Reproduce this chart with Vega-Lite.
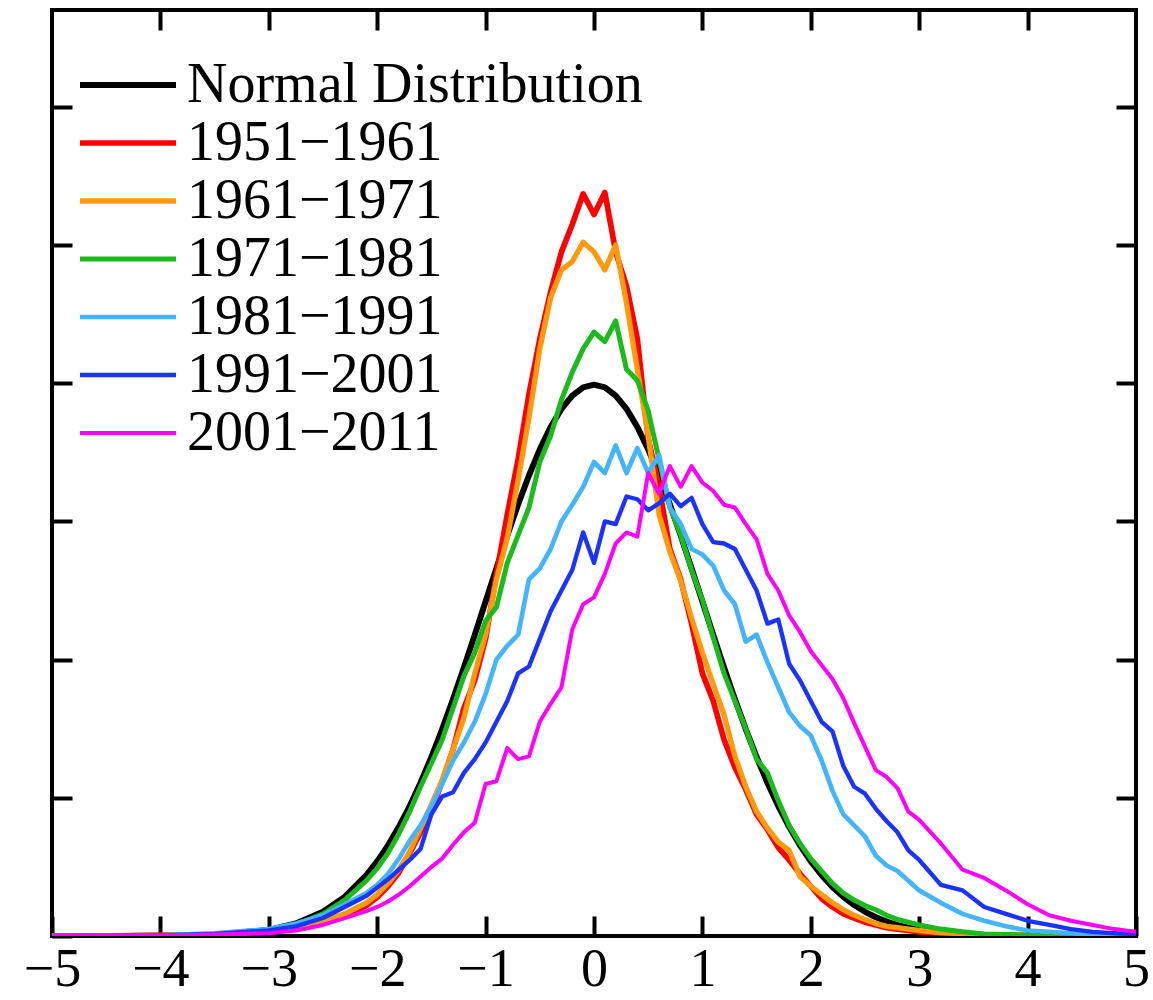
{
  "$schema": "https://vega.github.io/schema/vega-lite/v6.json",
  "width": 1084,
  "height": 926,
  "autosize": {"type": "none"},
  "padding": {"left": 52, "top": 10, "right": 17, "bottom": 64},
  "background": "white",
  "config": {
    "view": {"stroke": "black", "strokeWidth": 4},
    "font": "Liberation Serif",
    "axis": {"grid": false, "domain": false, "tickColor": "black", "tickWidth": 4, "tickSize": -20, "labelColor": "black", "labelFont": "Liberation Serif", "labelFontSize": 54, "title": null}
  },
  "data": {"values": [
    {"x": -5, "n": 0, "a": 0, "b": 0, "c": 0, "d": 0, "e": 0, "f": 0},
    {"x": -4.5, "n": 0, "a": 0, "b": 0, "c": 0, "d": 0.0002, "e": 0.0002, "f": 0.0001},
    {"x": -4, "n": 0.0001, "a": 0.0005, "b": 0.0005, "c": 0.0003, "d": 0.0005, "e": 0.0005, "f": 0.0003},
    {"x": -3.5, "n": 0.0009, "a": 0.001, "b": 0.0015, "c": 0.001, "d": 0.002, "e": 0.0015, "f": 0.001},
    {"x": -3, "n": 0.0044, "a": 0.003, "b": 0.004, "c": 0.004, "d": 0.005, "e": 0.004, "f": 0.002},
    {"x": -2.75, "n": 0.0091, "a": 0.006, "b": 0.007, "c": 0.008, "d": 0.009, "e": 0.007, "f": 0.004},
    {"x": -2.5, "n": 0.0175, "a": 0.010, "b": 0.011, "c": 0.016, "d": 0.015, "e": 0.013, "f": 0.008},
    {"x": -2.3, "n": 0.0283, "a": 0.015, "b": 0.016, "c": 0.026, "d": 0.023, "e": 0.021, "f": 0.013},
    {"x": -2.1, "n": 0.0440, "a": 0.022, "b": 0.024, "c": 0.040, "d": 0.031, "e": 0.029, "f": 0.018},
    {"x": -2.0, "n": 0.0540, "a": 0.028, "b": 0.030, "c": 0.049, "d": 0.037, "e": 0.035, "f": 0.021},
    {"x": -1.9, "n": 0.0656, "a": 0.036, "b": 0.038, "c": 0.060, "d": 0.045, "e": 0.041, "f": 0.025},
    {"x": -1.8, "n": 0.0790, "a": 0.046, "b": 0.048, "c": 0.074, "d": 0.056, "e": 0.048, "f": 0.030},
    {"x": -1.7, "n": 0.0940, "a": 0.060, "b": 0.061, "c": 0.090, "d": 0.069, "e": 0.055, "f": 0.036},
    {"x": -1.6, "n": 0.1109, "a": 0.075, "b": 0.078, "c": 0.108, "d": 0.080, "e": 0.063, "f": 0.043},
    {"x": -1.5, "n": 0.1295, "a": 0.090, "b": 0.095, "c": 0.125, "d": 0.094, "e": 0.088, "f": 0.050},
    {"x": -1.4, "n": 0.1497, "a": 0.112, "b": 0.113, "c": 0.142, "d": 0.110, "e": 0.101, "f": 0.056},
    {"x": -1.3, "n": 0.1714, "a": 0.135, "b": 0.135, "c": 0.165, "d": 0.127, "e": 0.104, "f": 0.066},
    {"x": -1.2, "n": 0.1942, "a": 0.165, "b": 0.158, "c": 0.188, "d": 0.140, "e": 0.118, "f": 0.075},
    {"x": -1.1, "n": 0.2179, "a": 0.185, "b": 0.190, "c": 0.205, "d": 0.155, "e": 0.128, "f": 0.082},
    {"x": -1.0, "n": 0.2420, "a": 0.215, "b": 0.218, "c": 0.228, "d": 0.175, "e": 0.140, "f": 0.110},
    {"x": -0.9, "n": 0.2661, "a": 0.262, "b": 0.258, "c": 0.238, "d": 0.200, "e": 0.155, "f": 0.112},
    {"x": -0.8, "n": 0.2897, "a": 0.305, "b": 0.288, "c": 0.270, "d": 0.210, "e": 0.170, "f": 0.136},
    {"x": -0.7, "n": 0.3123, "a": 0.345, "b": 0.330, "c": 0.290, "d": 0.218, "e": 0.190, "f": 0.128},
    {"x": -0.6, "n": 0.3332, "a": 0.392, "b": 0.375, "c": 0.310, "d": 0.258, "e": 0.195, "f": 0.130},
    {"x": -0.5, "n": 0.3521, "a": 0.432, "b": 0.425, "c": 0.343, "d": 0.266, "e": 0.215, "f": 0.155},
    {"x": -0.4, "n": 0.3683, "a": 0.466, "b": 0.462, "c": 0.362, "d": 0.280, "e": 0.235, "f": 0.168},
    {"x": -0.3, "n": 0.3814, "a": 0.495, "b": 0.482, "c": 0.388, "d": 0.300, "e": 0.250, "f": 0.180},
    {"x": -0.2, "n": 0.3910, "a": 0.515, "b": 0.488, "c": 0.408, "d": 0.312, "e": 0.265, "f": 0.222},
    {"x": -0.1, "n": 0.3970, "a": 0.537, "b": 0.502, "c": 0.425, "d": 0.325, "e": 0.292, "f": 0.240},
    {"x": 0, "n": 0.3989, "a": 0.522, "b": 0.495, "c": 0.437, "d": 0.343, "e": 0.270, "f": 0.245},
    {"x": 0.1, "n": 0.3970, "a": 0.538, "b": 0.482, "c": 0.430, "d": 0.335, "e": 0.300, "f": 0.262},
    {"x": 0.2, "n": 0.3910, "a": 0.495, "b": 0.500, "c": 0.445, "d": 0.355, "e": 0.298, "f": 0.284},
    {"x": 0.3, "n": 0.3814, "a": 0.470, "b": 0.458, "c": 0.410, "d": 0.335, "e": 0.318, "f": 0.292},
    {"x": 0.4, "n": 0.3683, "a": 0.432, "b": 0.410, "c": 0.402, "d": 0.353, "e": 0.316, "f": 0.289},
    {"x": 0.5, "n": 0.3521, "a": 0.360, "b": 0.362, "c": 0.380, "d": 0.335, "e": 0.308, "f": 0.335},
    {"x": 0.6, "n": 0.3332, "a": 0.325, "b": 0.305, "c": 0.345, "d": 0.348, "e": 0.313, "f": 0.320},
    {"x": 0.7, "n": 0.3123, "a": 0.280, "b": 0.278, "c": 0.310, "d": 0.310, "e": 0.320, "f": 0.340},
    {"x": 0.8, "n": 0.2897, "a": 0.258, "b": 0.257, "c": 0.290, "d": 0.298, "e": 0.311, "f": 0.325},
    {"x": 0.9, "n": 0.2661, "a": 0.226, "b": 0.230, "c": 0.265, "d": 0.280, "e": 0.317, "f": 0.340},
    {"x": 1.0, "n": 0.2420, "a": 0.190, "b": 0.205, "c": 0.243, "d": 0.276, "e": 0.298, "f": 0.328},
    {"x": 1.1, "n": 0.2179, "a": 0.170, "b": 0.182, "c": 0.216, "d": 0.268, "e": 0.285, "f": 0.322},
    {"x": 1.2, "n": 0.1942, "a": 0.142, "b": 0.160, "c": 0.190, "d": 0.250, "e": 0.284, "f": 0.312},
    {"x": 1.3, "n": 0.1714, "a": 0.122, "b": 0.130, "c": 0.170, "d": 0.240, "e": 0.280, "f": 0.310},
    {"x": 1.4, "n": 0.1497, "a": 0.106, "b": 0.108, "c": 0.150, "d": 0.213, "e": 0.265, "f": 0.298},
    {"x": 1.5, "n": 0.1295, "a": 0.088, "b": 0.090, "c": 0.128, "d": 0.218, "e": 0.250, "f": 0.287},
    {"x": 1.6, "n": 0.1109, "a": 0.077, "b": 0.078, "c": 0.118, "d": 0.198, "e": 0.226, "f": 0.262},
    {"x": 1.7, "n": 0.0940, "a": 0.064, "b": 0.068, "c": 0.098, "d": 0.180, "e": 0.229, "f": 0.250},
    {"x": 1.8, "n": 0.0790, "a": 0.055, "b": 0.062, "c": 0.080, "d": 0.162, "e": 0.197, "f": 0.232},
    {"x": 1.9, "n": 0.0656, "a": 0.045, "b": 0.043, "c": 0.067, "d": 0.152, "e": 0.185, "f": 0.220},
    {"x": 2.0, "n": 0.0540, "a": 0.036, "b": 0.036, "c": 0.056, "d": 0.145, "e": 0.170, "f": 0.206},
    {"x": 2.1, "n": 0.0440, "a": 0.027, "b": 0.030, "c": 0.047, "d": 0.127, "e": 0.155, "f": 0.196},
    {"x": 2.2, "n": 0.0355, "a": 0.021, "b": 0.024, "c": 0.038, "d": 0.105, "e": 0.148, "f": 0.186},
    {"x": 2.3, "n": 0.0283, "a": 0.016, "b": 0.019, "c": 0.031, "d": 0.088, "e": 0.123, "f": 0.172},
    {"x": 2.4, "n": 0.0224, "a": 0.013, "b": 0.015, "c": 0.026, "d": 0.080, "e": 0.108, "f": 0.154},
    {"x": 2.5, "n": 0.0175, "a": 0.010, "b": 0.012, "c": 0.022, "d": 0.072, "e": 0.103, "f": 0.137},
    {"x": 2.6, "n": 0.0136, "a": 0.008, "b": 0.009, "c": 0.019, "d": 0.058, "e": 0.092, "f": 0.120},
    {"x": 2.7, "n": 0.0104, "a": 0.006, "b": 0.007, "c": 0.015, "d": 0.051, "e": 0.083, "f": 0.115},
    {"x": 2.8, "n": 0.0079, "a": 0.005, "b": 0.006, "c": 0.012, "d": 0.047, "e": 0.075, "f": 0.107},
    {"x": 2.9, "n": 0.0060, "a": 0.004, "b": 0.005, "c": 0.010, "d": 0.040, "e": 0.062, "f": 0.090},
    {"x": 3.0, "n": 0.0044, "a": 0.003, "b": 0.004, "c": 0.008, "d": 0.033, "e": 0.055, "f": 0.084},
    {"x": 3.2, "n": 0.0024, "a": 0.002, "b": 0.0025, "c": 0.005, "d": 0.024, "e": 0.037, "f": 0.067},
    {"x": 3.4, "n": 0.0012, "a": 0.001, "b": 0.0015, "c": 0.003, "d": 0.016, "e": 0.033, "f": 0.048},
    {"x": 3.6, "n": 0.0006, "a": 0.0007, "b": 0.001, "c": 0.0015, "d": 0.011, "e": 0.021, "f": 0.042},
    {"x": 3.8, "n": 0.0003, "a": 0.0004, "b": 0.0005, "c": 0.001, "d": 0.007, "e": 0.016, "f": 0.033},
    {"x": 4.0, "n": 0.0001, "a": 0.0003, "b": 0.0003, "c": 0.0005, "d": 0.004, "e": 0.011, "f": 0.023},
    {"x": 4.2, "n": 0, "a": 0, "b": 0, "c": 0.0003, "d": 0.003, "e": 0.008, "f": 0.015},
    {"x": 4.4, "n": 0, "a": 0, "b": 0, "c": 0, "d": 0.002, "e": 0.005, "f": 0.011},
    {"x": 4.6, "n": 0, "a": 0, "b": 0, "c": 0, "d": 0.001, "e": 0.003, "f": 0.008},
    {"x": 4.8, "n": 0, "a": 0, "b": 0, "c": 0, "d": 0.0005, "e": 0.002, "f": 0.005},
    {"x": 5, "n": 0, "a": 0, "b": 0, "c": 0, "d": 0.0003, "e": 0.001, "f": 0.003}
  ]},
  "transform": [{"fold": ["n", "a", "b", "c", "d", "e", "f"], "as": ["series", "density"]}],
  "layer": [
    {
      "mark": {"type": "line", "clip": true, "strokeJoin": "round"},
      "encoding": {
        "x": {"field": "x", "type": "quantitative", "scale": {"domain": [-5, 5], "nice": false, "zero": false},
              "axis": {"orient": "bottom", "values": [-5, -4, -3, -2, -1, 0, 1, 2, 3, 4, 5], "labelPadding": 26, "labelFlush": false, "labelOverlap": false}},
        "y": {"field": "density", "type": "quantitative", "scale": {"domain": [0, 0.67], "nice": false},
              "axis": {"orient": "left", "values": [0, 0.1, 0.2, 0.3, 0.4, 0.5, 0.6], "labels": false}},
        "color": {"field": "series", "type": "nominal",
          "scale": {"domain": ["n", "a", "b", "c", "d", "e", "f"], "range": ["#000000", "#ff0000", "#ff9a10", "#1cba1c", "#44b4ff", "#1a33ff", "#ff00ff"]},
          "legend": {"orient": "none", "legendX": 48, "legendY": 47, "title": null, "symbolType": "M-1.92,0H1.92", "symbolSize": 2500,
            "labelFont": "Liberation Serif", "labelFontSize": 56, "labelColor": "black", "labelOffset": 31, "labelLimit": 0, "rowPadding": 2, "padding": 0,
            "labelExpr": "datum.label == 'n' ? 'Normal Distribution' : datum.label == 'a' ? '1951−1961' : datum.label == 'b' ? '1961−1971' : datum.label == 'c' ? '1971−1981' : datum.label == 'd' ? '1981−1991' : datum.label == 'e' ? '1991−2001' : '2001−2011'"}},
        "strokeWidth": {"field": "series", "type": "nominal",
          "scale": {"domain": ["n", "a", "b", "c", "d", "e", "f"], "range": [6, 4, 3.3, 3.3, 4, 3.3, 4]},
          "legend": {"orient": "none", "legendX": 48, "legendY": 47, "title": null, "symbolType": "M-1.92,0H1.92", "symbolSize": 2500,
            "labelFont": "Liberation Serif", "labelFontSize": 56, "labelColor": "black", "labelOffset": 31, "labelLimit": 0, "rowPadding": 2, "padding": 0,
            "labelExpr": "datum.label == 'n' ? 'Normal Distribution' : datum.label == 'a' ? '1951−1961' : datum.label == 'b' ? '1961−1971' : datum.label == 'c' ? '1971−1981' : datum.label == 'd' ? '1981−1991' : datum.label == 'e' ? '1991−2001' : '2001−2011'"}}
      }
    },
    {
      "mark": {"type": "line", "opacity": 0},
      "encoding": {
        "x": {"field": "x", "type": "quantitative", "scale": {"domain": [-5, 5], "nice": false, "zero": false},
              "axis": {"orient": "top", "values": [-4, -3, -2, -1, 0, 1, 2, 3, 4], "labels": false}},
        "y": {"field": "density", "type": "quantitative", "scale": {"domain": [0, 0.67], "nice": false},
              "axis": {"orient": "right", "values": [0.1, 0.2, 0.3, 0.4, 0.5, 0.6], "labels": false}},
        "detail": {"field": "series", "type": "nominal"}
      }
    }
  ],
  "resolve": {"axis": {"x": "independent", "y": "independent"}}
}
